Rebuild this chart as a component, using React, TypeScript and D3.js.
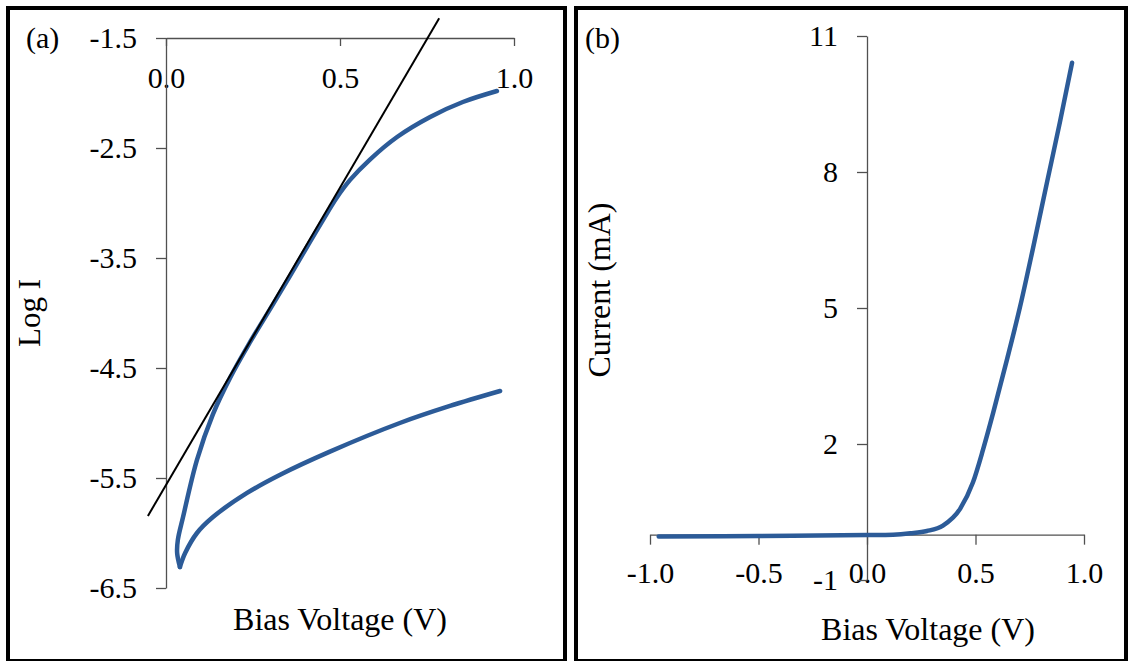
import React, { useEffect, useRef } from "react";
import * as d3 from "d3";

// (a) log I vs bias voltage
const upperV = [0.04, 0.032, 0.034, 0.049, 0.089, 0.135, 0.184, 0.241, 0.299, 0.356, 0.405, 0.451, 0.491, 0.529, 0.586, 0.664, 0.759, 0.853, 0.951];
const upperLogI = [-6.309, -6.182, -6.064, -5.855, -5.336, -4.92, -4.59, -4.268, -3.965, -3.665, -3.4, -3.155, -2.95, -2.79, -2.605, -2.4, -2.218, -2.082, -1.982];
const lowerV = [0.04, 0.055, 0.089, 0.135, 0.233, 0.328, 0.471, 0.672, 0.816, 0.96];
const lowerLogI = [-6.309, -6.182, -6.0, -5.855, -5.636, -5.47, -5.26, -5.0, -4.845, -4.709];
const fitV = [-0.052, 0.785];
const fitLogI = [-5.845, -1.32];
const logTicks = [-1.5, -2.5, -3.5, -4.5, -5.5, -6.5];
const biasTicksA = [0, 0.5, 1];

// (b) I-V curve
const ivV = [-0.96, -0.5, 0, 0.12, 0.2, 0.276, 0.35, 0.429, 0.488, 0.535, 0.581, 0.645, 0.705, 0.765, 0.829, 0.889, 0.945];
const ivI = [-0.04, -0.03, -0.01, 0.0, 0.03, 0.08, 0.2, 0.57, 1.15, 1.88, 2.68, 3.86, 5.02, 6.32, 7.76, 9.1, 10.41];
const currentTicks = [11, 8, 5, 2, -1];
const biasTicksB = [-1, -0.5, 0, 0.5, 1];

const FONT = "'Liberation Serif', 'Times New Roman', serif";
const BLUE = "#2c5b98";
const AXIS = "#505050";

function styleAxis(g: any) {
  g.select(".domain").attr("stroke", AXIS).attr("stroke-width", 1.3);
  g.selectAll(".tick line").attr("stroke", AXIS).attr("stroke-width", 1.3);
  g.selectAll(".tick text")
    .attr("fill", "#000")
    .style("font-family", FONT)
    .style("font-size", "30px");
}

export default function App() {
  const svgRef = useRef<SVGSVGElement>(null);

  useEffect(() => {
    const svg = d3.select(svgRef.current);
    svg.selectAll("*").remove();

    // panel frames
    svg.append("rect").attr("x", 8).attr("y", 8).attr("width", 557).attr("height", 653)
      .attr("fill", "none").attr("stroke", "#000").attr("stroke-width", 4);
    svg.append("rect").attr("x", 576).attr("y", 8).attr("width", 550).attr("height", 653)
      .attr("fill", "none").attr("stroke", "#000").attr("stroke-width", 4);

    // ---- (a)
    const xA = d3.scaleLinear().domain([0, 1]).range([166, 514]);
    const yA = d3.scaleLinear().domain([-6.5, -1.5]).range([588, 38]);

    svg.append("g")
      .attr("transform", `translate(0, ${yA(-1.5)})`)
      .call(d3.axisBottom(xA).tickValues(biasTicksA).tickSize(8).tickSizeOuter(0).tickPadding(21)
        .tickFormat((d: any) => d.toFixed(1)))
      .call(styleAxis);

    svg.append("g")
      .attr("transform", `translate(${xA(0)}, 0)`)
      .call(d3.axisLeft(yA).tickValues(logTicks).tickSize(10).tickSizeOuter(0).tickPadding(19)
        .tickFormat((d: any) => d.toFixed(1)))
      .call(styleAxis);

    const lineA = d3.line<number>()
      .x((_, i) => xA(upperV[i]))
      .y((d) => yA(d))
      .curve(d3.curveCatmullRom.alpha(0.5));
    const lowerLine = d3.line<number>()
      .x((_, i) => xA(lowerV[i]))
      .y((d) => yA(d))
      .curve(d3.curveCatmullRom.alpha(0.5));

    svg.append("path").attr("d", lineA(upperLogI))
      .attr("fill", "none").attr("stroke", BLUE).attr("stroke-width", 4.5)
      .attr("stroke-linecap", "round").attr("stroke-linejoin", "round");
    svg.append("path").attr("d", lowerLine(lowerLogI))
      .attr("fill", "none").attr("stroke", BLUE).attr("stroke-width", 4.5)
      .attr("stroke-linecap", "round").attr("stroke-linejoin", "round");

    const fitLine = d3.line<number>().x((_, i) => xA(fitV[i])).y((d) => yA(d));
    svg.append("path").attr("d", fitLine(fitLogI))
      .attr("fill", "none").attr("stroke", "#000").attr("stroke-width", 2);

    const text = (x: number, y: number, s: string, size = 30, anchor = "start", rot = 0) =>
      svg.append("text")
        .attr("transform", `translate(${x}, ${y}) rotate(${rot})`)
        .attr("text-anchor", anchor)
        .style("font-family", FONT)
        .style("font-size", `${size}px`)
        .attr("fill", "#000")
        .text(s);

    text(26, 48, "(a)");
    text(40, 313, "Log I", 31, "middle", -90);
    text(340, 630, "Bias Voltage (V)", 32, "middle");

    // ---- (b)
    const xB = d3.scaleLinear().domain([-1, 1]).range([650, 1084]);
    const yB = d3.scaleLinear().domain([-1, 11]).range([580, 36]);

    svg.append("g")
      .attr("transform", `translate(0, ${yB(0)})`)
      .call(d3.axisBottom(xB).tickValues(biasTicksB).tickSize(10).tickSizeOuter(0).tickPadding(17)
        .tickFormat((d: any) => d.toFixed(1)))
      .call(styleAxis);

    svg.append("g")
      .attr("transform", `translate(${xB(0)}, 0)`)
      .call(d3.axisLeft(yB).tickValues(currentTicks).tickSize(10).tickSizeOuter(0).tickPadding(19)
        .tickFormat((d: any) => String(d)))
      .call(styleAxis);

    const lineB = d3.line<number>()
      .x((_, i) => xB(ivV[i]))
      .y((d) => yB(d))
      .curve(d3.curveMonotoneX);
    svg.append("path").attr("d", lineB(ivI))
      .attr("fill", "none").attr("stroke", BLUE).attr("stroke-width", 4.5)
      .attr("stroke-linecap", "round").attr("stroke-linejoin", "round");

    text(585, 48, "(b)");
    text(610, 290, "Current (mA)", 32, "middle", -90);
    text(928, 640, "Bias Voltage (V)", 32, "middle");
  }, []);

  return (
    <svg
      ref={svgRef}
      width={1130}
      height={661}
      style={{ position: "absolute", left: 0, top: 0, background: "#fff" }}
    />
  );
}
